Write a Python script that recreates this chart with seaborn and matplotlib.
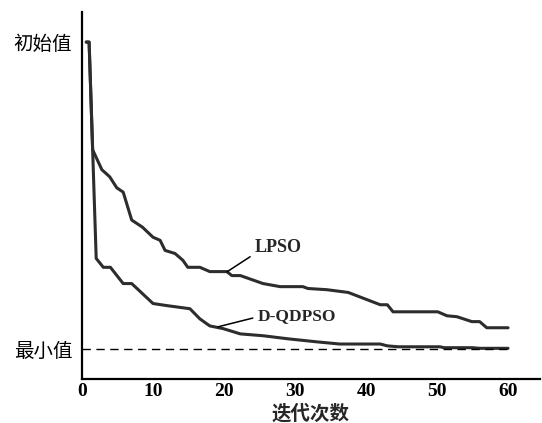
import pandas as pd
import matplotlib
matplotlib.use('Agg')
import matplotlib.pyplot as plt
import seaborn as sns

# data (value scaled: 0 = minimum, 1 = initial value)
lpso_iter = [0.6, 1, 1.5, 2.8, 3.9, 4.9, 5.8, 7, 8.5, 10, 11, 11.7, 13.1, 14.2, 14.9, 16.6, 18,
             20.4, 21.1, 22.3, 25.5, 27.9, 31.1, 31.8, 34.5, 37.5, 42, 43, 43.8, 50.1, 51.4,
             52.8, 54.9, 56, 57, 60]
lpso_val = [1.0, 1.0, 0.649, 0.584, 0.561, 0.525, 0.511, 0.420, 0.397, 0.364, 0.354, 0.321,
            0.311, 0.289, 0.266, 0.266, 0.252, 0.252, 0.239, 0.239, 0.213, 0.203, 0.203, 0.197,
            0.193, 0.184, 0.144, 0.144, 0.121, 0.121, 0.108, 0.105, 0.089, 0.089, 0.069, 0.069]

dq_iter = [0.6, 1, 2, 3, 4, 5.8, 7, 10, 12, 15.2, 16.6, 18, 19.9, 22.3, 25.5, 29, 33.1, 36.3,
           42, 43, 44.5, 50.4, 51, 55, 56, 60]
dq_val = [1.0, 1.0, 0.295, 0.266, 0.266, 0.213, 0.213, 0.148, 0.141, 0.131, 0.098, 0.075,
          0.066, 0.049, 0.043, 0.033, 0.023, 0.016, 0.016, 0.010, 0.007, 0.007, 0.004, 0.004,
          0.002, 0.002]

x_ticks = [0, 10, 20, 30, 40, 50, 60]
y_ticks = [0, 1]
y_tick_labels = ['最小值', '初始值']

sns.set_style('white')
plt.rcParams['font.family'] = ['Liberation Serif', 'Noto Sans CJK SC']

df = pd.concat([
    pd.DataFrame({'iter': lpso_iter, 'value': lpso_val, 'algo': 'LPSO'}),
    pd.DataFrame({'iter': dq_iter, 'value': dq_val, 'algo': 'D-QDPSO'}),
])

fig = plt.figure(figsize=(5.42, 4.23), dpi=100)
ax = fig.add_axes([82 / 542, 44 / 423, 458 / 542, 367 / 423])

line_col = '#2d2d2d'
sns.lineplot(data=df, x='iter', y='value', hue='algo', palette=[line_col, line_col],
             estimator=None, sort=False, legend=False, linewidth=2.2, ax=ax)

# minimum value reference line
ax.hlines(y_ticks[0], x_ticks[0], x_ticks[-1], colors='black', linestyles=(0, (6, 4)),
          linewidth=1.0)

ax.set_xlim(0, 64.5)
ax.set_ylim(-0.098, 1.098)

ax.set_xticks(x_ticks)
ax.set_xticklabels([str(t) for t in x_ticks], fontsize=14, fontweight='bold',
                   family='Liberation Serif')
ax.set_yticks(y_ticks)
ax.set_yticklabels(y_tick_labels, fontsize=14, family='Noto Sans CJK SC')

ax.tick_params(axis='x', direction='in', length=4, width=1.2, pad=3, colors='black')
ax.tick_params(axis='y', length=0, pad=7, colors='black')

for side in ['top', 'right']:
    ax.spines[side].set_visible(False)
for side in ['left', 'bottom']:
    ax.spines[side].set_linewidth(1.6)
    ax.spines[side].set_color('black')

ax.set_xlabel('迭代次数', fontsize=14, family='Noto Sans CJK SC', fontweight='bold',
              labelpad=3)
ax.set_ylabel('')

ax.annotate('LPSO', xy=(20.4, 0.251), xytext=(24.3, 0.332), fontsize=13, fontweight='bold',
            ha='left', va='center',
            arrowprops=dict(arrowstyle='-', color='black', lw=1.1, relpos=(0, 0.1),
                            shrinkA=1, shrinkB=0))
ax.annotate('D-QDPSO', xy=(19.15, 0.072), xytext=(24.7, 0.107), fontsize=12.5,
            fontweight='bold', ha='left', va='center',
            arrowprops=dict(arrowstyle='-', color='black', lw=1.1, relpos=(0, 0.45),
                            shrinkA=1, shrinkB=0))

fig.savefig('out.png', dpi=100)
